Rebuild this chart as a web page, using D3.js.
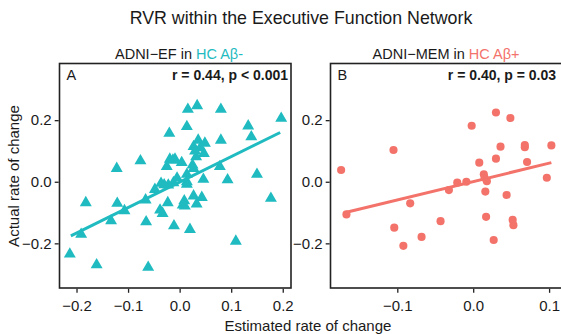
<!DOCTYPE html>
<html>
<head>
<meta charset="utf-8">
<script src="https://cdn.jsdelivr.net/npm/d3@7"></script>
<style>
  body { margin: 0; background: #fff; }
  text { font-family: "Liberation Sans", Arial, sans-serif; fill: #1a1a1a; }
</style>
</head>
<body>
<div id="chart"></div>
<script>
// left panel: ADNI-EF in HC Ab- (estimated, actual)
const efEstimated = [-0.122, -0.076, -0.020, 0.014, 0.016, 0.034, 0.080, 0.133, 0.139, 0.197,
  0.080, 0.036, 0.027, 0.049, 0.047, 0.032, -0.019, -0.009, 0.004, -0.025,
  0.025, 0.027, 0.078, 0.150, 0.046, 0.093, 0.014, -0.013, 0.040, 0.014,
  -0.036, -0.022, -0.012, 0.014, -0.048, -0.182, -0.121, -0.066, -0.023, -0.107,
  -0.038, -0.033, 0.009, 0.006, 0.010, 0.027, 0.043, 0.033, 0.177, -0.133,
  -0.065, -0.011, 0.020, -0.191, 0.109, -0.213, -0.161, -0.061, -0.005, -0.030, 0.030];
const efActual = [0.043, 0.068, 0.157, 0.179, 0.235, 0.247, 0.235, 0.181, 0.146, 0.206,
  0.135, 0.135, 0.114, 0.125, 0.092, 0.081, 0.073, 0.073, 0.062, 0.049,
  0.054, 0.043, 0.049, 0.024, 0.008, 0.006, 0.024, 0.070, 0.110, 0.000,
  -0.005, -0.011, -0.003, -0.008, -0.025, -0.068, -0.070, -0.059, -0.068, -0.094,
  -0.092, -0.103, -0.062, -0.076, -0.079, -0.046, -0.051, -0.072, -0.054, -0.127,
  -0.130, -0.143, -0.155, -0.171, -0.193, -0.235, -0.270, -0.278, 0.012, -0.010, 0.100];
const efFit = [[-0.211, -0.176], [0.195, 0.160]];

// right panel: ADNI-MEM in HC Ab+
const memEstimated = [-0.174, -0.105, -0.002, 0.030, 0.049, 0.036, 0.068, 0.068, 0.103, 0.008,
  0.030, 0.071, 0.097, -0.021, -0.009, 0.014, 0.015, 0.018, -0.032, 0.016,
  0.044, -0.043, 0.017, 0.052, 0.053, 0.027, -0.167, -0.083, -0.104, -0.068, -0.092];
const memActual = [0.038, 0.103, 0.182, 0.225, 0.207, 0.114, 0.119, 0.112, 0.118, 0.062,
  0.075, 0.064, 0.013, -0.003, 0.000, 0.024, 0.013, 0.002, -0.027, -0.032,
  -0.043, -0.128, -0.114, -0.124, -0.141, -0.189, -0.106, -0.070, -0.149, -0.179, -0.208];
const memFit = [[-0.167, -0.099], [0.103, 0.062]];

const efTicks = [-0.2, -0.1, 0.0, 0.1, 0.2];
const memTicks = [-0.1, 0.0, 0.1];
const yTicks = [-0.2, 0.0, 0.2];

const width = 561, height = 334;
const teal = '#1FBBC0', salmon = '#F3736B';
const fmt = d => d3.format('.1f')(d).replace('-', '\u2212');

const svg = d3.select('#chart').append('svg')
  .attr('width', width).attr('height', height);

svg.append('text').attr('x', 301).attr('y', 24).attr('text-anchor', 'middle')
  .style('font-size', '17.8px').text('RVR within the Executive Function Network');

const panels = [
  { left: 59.5, right: 291, xDom: [-0.233, 0.216], xs: efEstimated, ys: efActual, fit: efFit,
    ticks: efTicks, color: teal, shape: d3.symbolTriangle, size: 62,
    title: 'ADNI\u2212EF in ', group: 'HC A\u03B2-', letter: 'A', stat: 'r = 0.44, p < 0.001',
    titleX: 179, statX: 288 },
  { left: 330.5, right: 562, xDom: [-0.188, 0.117], xs: memEstimated, ys: memActual, fit: memFit,
    ticks: memTicks, color: salmon, shape: d3.symbolCircle, size: 52,
    title: 'ADNI\u2212MEM in ', group: 'HC A\u03B2+', letter: 'B', stat: 'r = 0.40, p = 0.03',
    titleX: 446, statX: 556 }
];

const plotTop = 63.5, plotBottom = 288;
const y = d3.scaleLinear().domain([-0.345, 0.384]).range([plotBottom, plotTop]);

panels.forEach(p => {
  const x = d3.scaleLinear().domain(p.xDom).range([p.left, p.right]);
  const g = svg.append('g');

  // points
  g.selectAll('path.pt').data(d3.range(p.xs.length)).enter().append('path')
    .attr('class', 'pt')
    .attr('transform', i => `translate(${x(p.xs[i])},${y(p.ys[i])})`)
    .attr('d', d3.symbol().type(p.shape).size(p.size))
    .attr('fill', p.color);

  // fit line
  g.append('path').datum(p.fit)
    .attr('d', d3.line().x(d => x(d[0])).y(d => y(d[1])))
    .attr('stroke', p.color).attr('stroke-width', 3).attr('fill', 'none');

  // panel border
  g.append('rect').attr('x', p.left).attr('y', plotTop)
    .attr('width', p.right - p.left).attr('height', plotBottom - plotTop)
    .attr('fill', 'none').attr('stroke', '#222').attr('stroke-width', 1.6);

  // axes
  const xAxis = g.append('g').attr('transform', `translate(0,${plotBottom + 0.8})`)
    .call(d3.axisBottom(x).tickValues(p.ticks).tickSize(4).tickFormat(fmt));
  xAxis.select('.domain').remove();
  xAxis.selectAll('line').attr('stroke', '#222').attr('stroke-width', 1.3);
  xAxis.selectAll('text').style('font-size', '15px').attr('dy', '1.0em').attr('fill', '#1a1a1a');

  const yAxis = g.append('g').attr('transform', `translate(${p.left - 0.8},0)`)
    .call(d3.axisLeft(y).tickValues(yTicks).tickSize(4).tickFormat(fmt));
  yAxis.select('.domain').remove();
  yAxis.selectAll('line').attr('stroke', '#222').attr('stroke-width', 1.3);
  yAxis.selectAll('text').style('font-size', '15px').attr('fill', '#1a1a1a');

  // titles
  const t = g.append('text').attr('x', p.titleX).attr('y', 59)
    .attr('text-anchor', 'middle').style('font-size', '14.5px');
  t.append('tspan').text(p.title);
  t.append('tspan').style('fill', p.color).text(p.group);

  g.append('text').attr('x', p.left + 7).attr('y', 80).style('font-size', '14.5px').text(p.letter);
  g.append('text').attr('x', p.statX).attr('y', 80)
    .attr('text-anchor', 'end').style('font-size', '14px').style('font-weight', 'bold').text(p.stat);
});

svg.append('text').attr('transform', 'translate(19,176) rotate(-90)')
  .attr('text-anchor', 'middle').style('font-size', '15px').text('Actual rate of change');
svg.append('text').attr('x', 308).attr('y', 331).attr('text-anchor', 'middle')
  .style('font-size', '15px').text('Estimated rate of change');
</script>
</body>
</html>
